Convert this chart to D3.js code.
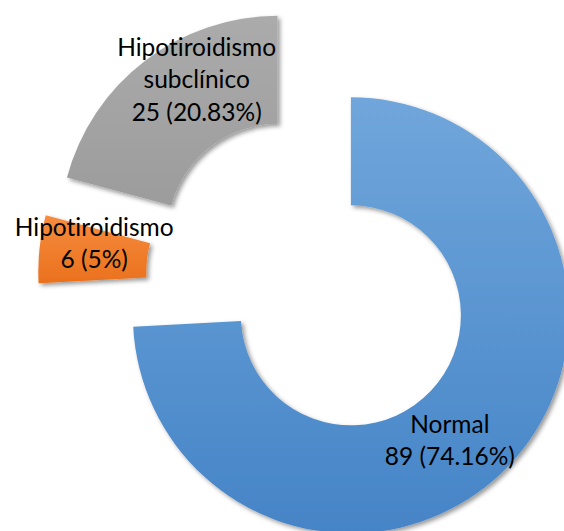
<!DOCTYPE html>
<html>
<head>
<meta charset="utf-8">
<script src="https://cdn.jsdelivr.net/npm/d3@7/dist/d3.min.js"></script>
<style>
  html, body { margin: 0; padding: 0; background: #ffffff; }
  svg { display: block; }
  text {
    font-family: Lato, "Open Sans", sans-serif;
    fill: #000;
    font-variant-ligatures: none;
    font-feature-settings: "liga" 0, "clig" 0;
  }
</style>
</head>
<body>
<svg id="chart" width="564" height="531"></svg>
<script>
// Thyroid status of the sample (n = 120)
const categories = ["Normal", "Hipotiroidismo", "Hipotiroidismo subclínico"];
const counts = [89, 6, 25];
const percentLabels = ["74.16%", "5%", "20.83%"];
const labelLines = [["Normal"], ["Hipotiroidismo"], ["Hipotiroidismo", "subclínico"]];

const palette = [
  { top: "#70a6db", bottom: "#4584c7" },
  { top: "#f68c3e", bottom: "#ea711d" },
  { top: "#ababab", bottom: "#9c9c9c" }
];

const W = 564, H = 531;
const cx = 311, cy = 277.5;
const outerR = 218, innerR = 110;
const explode = 55;
const fontSize = 24.5, lineH = 32.5;
// small placement tweaks for each data label
const labelNudge = [[-20, 12], [1, -11], [19, -24]];

const svg = d3.select("#chart");
const defs = svg.append("defs");

const shadow = defs.append("filter")
  .attr("id", "shadow")
  .attr("x", "-10%").attr("y", "-10%")
  .attr("width", "130%").attr("height", "130%");
shadow.append("feDropShadow")
  .attr("dx", 2.5).attr("dy", 2.5)
  .attr("stdDeviation", 2.2)
  .attr("flood-color", "#000")
  .attr("flood-opacity", 0.4);

palette.forEach((c, i) => {
  const g = defs.append("linearGradient")
    .attr("id", "grad" + i)
    .attr("x1", 0).attr("y1", 0).attr("x2", 0).attr("y2", 1);
  g.append("stop").attr("offset", "0%").attr("stop-color", c.top);
  g.append("stop").attr("offset", "100%").attr("stop-color", c.bottom);
});

const pie = d3.pie().sort(null).value(d => d);
const arcs = pie(counts);
const arc = d3.arc().innerRadius(innerR).outerRadius(outerR);

const offsetOf = a => {
  const mid = (a.startAngle + a.endAngle) / 2;
  return [explode * Math.sin(mid), -explode * Math.cos(mid)];
};

const root = svg.append("g").attr("transform", `translate(${cx},${cy})`);

const slices = root.selectAll("g.slice")
  .data(arcs)
  .join("g")
  .attr("class", "slice")
  .attr("transform", d => {
    const [dx, dy] = offsetOf(d);
    return `translate(${dx},${dy})`;
  });

slices.append("path")
  .attr("d", arc)
  .attr("fill", (d, i) => `url(#grad${i})`)
  .attr("filter", "url(#shadow)");

slices.each(function (d, i) {
  const [x0, y0] = arc.centroid(d);
  const x = x0 + labelNudge[i][0];
  const y = y0 + labelNudge[i][1];
  const lines = labelLines[i].concat([`${counts[i]} (${percentLabels[i]})`]);
  const t = d3.select(this).append("text")
    .attr("text-anchor", "middle")
    .attr("font-size", fontSize);
  lines.forEach((line, k) => {
    t.append("tspan")
      .attr("x", x)
      .attr("y", y + (k - (lines.length - 1) / 2) * lineH)
      .attr("dy", "0.35em")
      .text(line);
  });
});
</script>
</body>
</html>
